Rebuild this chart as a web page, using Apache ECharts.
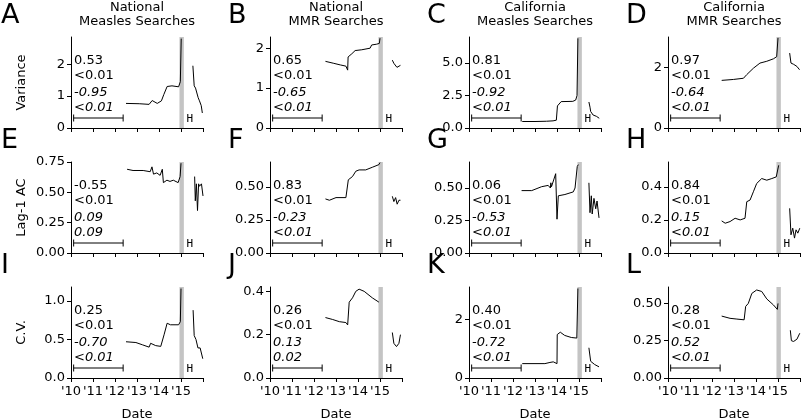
<!DOCTYPE html>
<html>
<head>
<meta charset="utf-8">
<script src="https://cdn.jsdelivr.net/npm/echarts@6/dist/echarts.min.js"></script>
<style>
  html, body { margin: 0; background: #fff; }
  #chart { width: 802px; height: 420px; }
</style>
</head>
<body>
<div id="chart"></div>
<script>
// ---- data ----
const years = [2010, 2011, 2012, 2013, 2014, 2015, 2016]
const panelLetters = ['A', 'B', 'C', 'D', 'E', 'F', 'G', 'H', 'I', 'J', 'K', 'L']
const columnTitles = [
  ['National', 'Measles Searches'],
  ['National', 'MMR Searches'],
  ['California', 'Measles Searches'],
  ['California', 'MMR Searches']
]
const rowNames = ['Variance', 'Lag-1 AC', 'C.V.']
const yMax = [2.85, 2.28, 7.0, 3.0, 0.75, 0.69, 0.70, 0.55, 1.18, 0.42, 3.1, 0.61]
const yTicks = [
  [0, 1, 2], [0, 1, 2], [0, 2.5, 5], [0, 2],
  [0, 0.25, 0.5, 0.75], [0, 0.25, 0.5], [0, 0.25, 0.5], [0, 0.2, 0.4],
  [0, 0.5, 1], [0, 0.2, 0.4], [0, 2], [0, 0.25, 0.5]
]
const yDecimals = [0, 0, 1, 0, 2, 2, 2, 1, 1, 1, 0, 2]
// kendall tau / p-value, upper (normal) and lower (italic)
const statsUpper = [
  ['0.53', '<0.01'], ['0.65', '<0.01'], ['0.81', '<0.01'], ['0.97', '<0.01'],
  ['-0.55', '<0.01'], ['0.83', '<0.01'], ['0.06', '<0.01'], ['0.84', '<0.01'],
  ['0.25', '<0.01'], ['0.26', '<0.01'], ['0.40', '<0.01'], ['0.28', '<0.01']
]
const statsLower = [
  ['-0.95', '<0.01'], ['-0.65', '<0.01'], ['-0.92', '<0.01'], ['-0.64', '<0.01'],
  ['0.09', '0.09'], ['-0.23', '<0.01'], ['-0.53', '<0.01'], ['0.15', '<0.01'],
  ['-0.70', '<0.01'], ['0.13', '0.02'], ['-0.72', '<0.01'], ['0.52', '<0.01']
]
const windowSpan = [2010.12, 2012.37]
const outbreakBand = [2014.93, 2015.13]

const preA = [[2012.50,0.77],[2013.10,0.76],[2013.55,0.74],[2013.62,0.75],[2013.69,0.86],[2013.74,0.80],[2013.92,0.77],[2014.11,0.85],[2014.22,1.05],[2014.37,1.30],[2014.59,1.32],[2014.89,1.29],[2014.97,1.45],[2015.01,2.80]]
const postA = [[2015.54,1.95],[2015.60,1.32],[2015.66,1.25],[2015.72,1.20],[2015.78,0.95],[2015.84,0.85],[2015.92,0.70],[2015.97,0.47]]
const preB = [[2012.52,1.67],[2012.90,1.62],[2013.20,1.58],[2013.45,1.55],[2013.53,1.45],[2013.55,1.78],[2013.72,1.86],[2013.87,1.94],[2014.17,1.96],[2014.55,2.00],[2014.62,2.08],[2014.85,2.10],[2014.97,2.12],[2015.00,2.25]]
const postB = [[2015.56,1.70],[2015.63,1.62],[2015.71,1.57],[2015.77,1.52],[2015.83,1.55],[2015.93,1.57]]
const preC = [[2012.42,0.50],[2013.00,0.50],[2013.52,0.52],[2013.82,0.55],[2013.97,0.60],[2014.00,0.60],[2014.02,1.70],[2014.19,2.03],[2014.72,2.05],[2014.85,2.15],[2014.91,2.50],[2014.95,6.90]]
const postC = [[2015.45,2.00],[2015.50,1.60],[2015.53,1.27],[2015.64,1.00],[2015.79,0.90],[2015.92,0.75]]
const preD = [[2012.44,1.57],[2012.97,1.60],[2013.43,1.64],[2013.58,1.76],[2013.88,1.97],[2014.18,2.14],[2014.49,2.20],[2014.79,2.28],[2014.94,2.35],[2015.00,2.97]]
const postD = [[2015.53,2.47],[2015.59,2.14],[2015.71,2.10],[2015.86,2.03],[2015.98,1.92]]
const preE = [[2012.55,0.69],[2012.82,0.68],[2013.28,0.68],[2013.60,0.67],[2013.68,0.71],[2013.75,0.65],[2013.90,0.66],[2014.05,0.64],[2014.15,0.69],[2014.20,0.58],[2014.36,0.60],[2014.50,0.59],[2014.65,0.60],[2014.87,0.58],[2014.96,0.63],[2015.00,0.74]]
const postE = [[2015.62,0.63],[2015.65,0.43],[2015.70,0.57],[2015.75,0.35],[2015.80,0.57],[2015.84,0.55],[2015.93,0.57],[2016.00,0.47]]
const preF = [[2012.52,0.41],[2012.70,0.40],[2013.00,0.42],[2013.45,0.42],[2013.56,0.555],[2013.75,0.58],[2013.90,0.62],[2014.05,0.63],[2014.35,0.63],[2014.65,0.65],[2014.95,0.67],[2015.00,0.685]]
const postF = [[2015.56,0.43],[2015.63,0.39],[2015.71,0.42],[2015.78,0.37],[2015.86,0.40],[2015.93,0.40]]
const preG = [[2012.39,0.48],[2012.85,0.48],[2013.00,0.49],[2013.30,0.51],[2013.60,0.52],[2013.70,0.50],[2013.72,0.54],[2013.75,0.51],[2013.83,0.52],[2013.94,0.61],[2014.00,0.26],[2014.06,0.44],[2014.14,0.45],[2014.36,0.45],[2014.74,0.47],[2014.82,0.50],[2014.92,0.665],[2014.97,0.68]]
const postG = [[2015.45,0.54],[2015.50,0.31],[2015.56,0.44],[2015.60,0.30],[2015.68,0.42],[2015.76,0.34],[2015.82,0.40],[2015.91,0.27]]
const preH = [[2012.44,0.194],[2012.60,0.18],[2012.82,0.19],[2013.05,0.21],[2013.28,0.20],[2013.50,0.21],[2013.58,0.31],[2013.73,0.32],[2013.88,0.37],[2014.03,0.42],[2014.26,0.45],[2014.49,0.44],[2014.72,0.45],[2014.92,0.46],[2015.03,0.53]]
const postH = [[2015.53,0.27],[2015.59,0.11],[2015.67,0.15],[2015.75,0.09],[2015.82,0.14],[2015.90,0.12],[2015.99,0.15]]
const preI = [[2012.50,0.47],[2012.95,0.46],[2013.25,0.43],[2013.55,0.40],[2013.62,0.45],[2013.85,0.42],[2014.08,0.41],[2014.23,0.56],[2014.37,0.71],[2014.52,0.69],[2014.89,0.69],[2014.97,0.73],[2015.00,1.16]]
const postI = [[2015.55,0.88],[2015.60,0.55],[2015.68,0.50],[2015.77,0.39],[2015.87,0.39],[2015.99,0.25]]
const preJ = [[2012.52,0.279],[2012.85,0.27],[2013.15,0.26],[2013.45,0.256],[2013.53,0.245],[2013.60,0.35],[2013.75,0.37],[2013.90,0.40],[2014.05,0.41],[2014.28,0.40],[2014.65,0.37],[2014.95,0.35]]
const postJ = [[2015.56,0.21],[2015.63,0.16],[2015.75,0.145],[2015.86,0.16],[2015.93,0.20]]
const preK = [[2012.42,0.49],[2013.45,0.49],[2013.68,0.53],[2013.83,0.55],[2013.90,0.49],[2014.00,0.49],[2014.01,1.48],[2014.15,1.56],[2014.35,1.45],[2014.65,1.38],[2014.90,1.36],[2014.95,3.05]]
const postK = [[2015.45,1.03],[2015.53,0.57],[2015.71,0.46],[2015.91,0.38]]
const preL = [[2012.44,0.415],[2012.82,0.40],[2013.13,0.395],[2013.46,0.39],[2013.53,0.48],[2013.65,0.50],[2013.81,0.567],[2014.03,0.59],[2014.26,0.58],[2014.49,0.53],[2014.79,0.49],[2014.97,0.46],[2015.00,0.50]]
const postL = [[2015.56,0.32],[2015.61,0.25],[2015.71,0.245],[2015.86,0.26],[2015.99,0.30]]

const preSeries = [preA, preB, preC, preD, preE, preF, preG, preH, preI, preJ, preK, preL]
const postSeries = [postA, postB, postC, postD, postE, postF, postG, postH, postI, postJ, postK, postL]

// ---- layout ----
const colLeft = [71, 270, 469, 668]
const rowTop = [37, 162, 287]
const plotW = 132
const plotH = 91
const font = 'DejaVu Sans'

const grids = []
const xAxes = []
const yAxes = []
const series = []
const graphics = []

for (let i = 0; i < 12; i++) {
  const row = Math.floor(i / 4)
  const col = i % 4
  const left = colLeft[col]
  const top = rowTop[row]
  grids.push({ left, top, width: plotW, height: plotH })

  xAxes.push({
    gridIndex: i,
    type: 'value',
    min: 2010,
    max: 2016,
    interval: 1,
    axisLine: { show: true, onZero: false, lineStyle: { color: '#000', width: 1 } },
    axisTick: { show: true, length: 4, customValues: years, lineStyle: { color: '#000' } },
    axisLabel: {
      show: row === 2,
      customValues: years.slice(0, 6),
      formatter: (v) => "'" + String(v).slice(2),
      color: '#000',
      fontSize: 13,
      fontFamily: font,
      margin: 7
    },
    splitLine: { show: false }
  })

  yAxes.push({
    gridIndex: i,
    type: 'value',
    min: 0,
    max: yMax[i],
    axisLine: { show: true, lineStyle: { color: '#000', width: 1 } },
    axisTick: { show: true, length: 4, customValues: yTicks[i], lineStyle: { color: '#000' } },
    axisLabel: {
      customValues: yTicks[i],
      formatter: (v) => v.toFixed(yDecimals[i]),
      color: '#000',
      fontSize: 13,
      fontFamily: font,
      margin: 6
    },
    splitLine: { show: false }
  })

  const lineStyle = { color: '#000', width: 1 }
  series.push({
    type: 'line',
    xAxisIndex: i,
    yAxisIndex: i,
    data: preSeries[i],
    showSymbol: false,
    lineStyle,
    markArea: {
      silent: true,
      itemStyle: { color: '#c4c4c4' },
      label: {
        show: true,
        formatter: 'H',
        position: [7, plotH - 9],
        align: 'left',
        verticalAlign: 'middle',
        color: '#000',
        fontSize: 11,
        fontFamily: 'DejaVu Sans Mono'
      },
      data: [[{ xAxis: outbreakBand[0] }, { xAxis: outbreakBand[1] }]]
    }
  })
  series.push({
    type: 'line',
    xAxisIndex: i,
    yAxisIndex: i,
    data: postSeries[i],
    showSymbol: false,
    lineStyle
  })
  // rolling window width marker
  series.push({
    type: 'line',
    xAxisIndex: i,
    yAxisIndex: i,
    data: windowSpan.map((x) => [x, yMax[i] * 10 / plotH]),
    symbol: 'rect',
    symbolSize: [1, 7],
    itemStyle: { color: '#000' },
    lineStyle
  })

  // panel letter
  graphics.push({
    type: 'text',
    x: col === 0 ? 1 : left - 42,
    y: top - 21,
    style: { text: panelLetters[i], font: '27px "DejaVu Sans"', fill: '#000', textVerticalAlign: 'middle' }
  })
  // stats text
  const sx = left + 3
  graphics.push({ type: 'text', x: sx, y: top + 24, style: { text: statsUpper[i][0], font: '13px "DejaVu Sans"', fill: '#000', textVerticalAlign: 'middle' } })
  graphics.push({ type: 'text', x: sx, y: top + 38.5, style: { text: statsUpper[i][1], font: '13px "DejaVu Sans"', fill: '#000', textVerticalAlign: 'middle' } })
  graphics.push({ type: 'text', x: sx, y: top + 55.5, style: { text: statsLower[i][0], font: 'italic 13px "DejaVu Sans"', fill: '#000', textVerticalAlign: 'middle' } })
  graphics.push({ type: 'text', x: sx, y: top + 70.5, style: { text: statsLower[i][1], font: 'italic 13px "DejaVu Sans"', fill: '#000', textVerticalAlign: 'middle' } })
}

// column titles
columnTitles.forEach((t, c) => {
  graphics.push({
    type: 'text',
    x: colLeft[c] + plotW / 2,
    y: 8,
    style: { text: t[0], font: '13px "DejaVu Sans"', fill: '#000', textAlign: 'center', textVerticalAlign: 'middle' }
  })
  graphics.push({
    type: 'text',
    x: colLeft[c] + plotW / 2,
    y: 22,
    style: { text: t[1], font: '13px "DejaVu Sans"', fill: '#000', textAlign: 'center', textVerticalAlign: 'middle' }
  })
  graphics.push({
    type: 'text',
    x: colLeft[c] + plotW / 2,
    y: 415,
    style: { text: 'Date', font: '13px "DejaVu Sans"', fill: '#000', textAlign: 'center', textVerticalAlign: 'middle' }
  })
})

// row names
rowNames.forEach((name, r) => {
  graphics.push({
    type: 'text',
    x: 22,
    y: rowTop[r] + plotH / 2,
    rotation: Math.PI / 2,
    style: { text: name, font: '13px "DejaVu Sans"', fill: '#000', textAlign: 'center', textVerticalAlign: 'middle' }
  })
})

const chart = echarts.init(document.getElementById('chart'))
chart.setOption({
  animation: false,
  backgroundColor: '#fff',
  grid: grids,
  xAxis: xAxes,
  yAxis: yAxes,
  series,
  graphic: graphics
})
</script>
</body>
</html>
